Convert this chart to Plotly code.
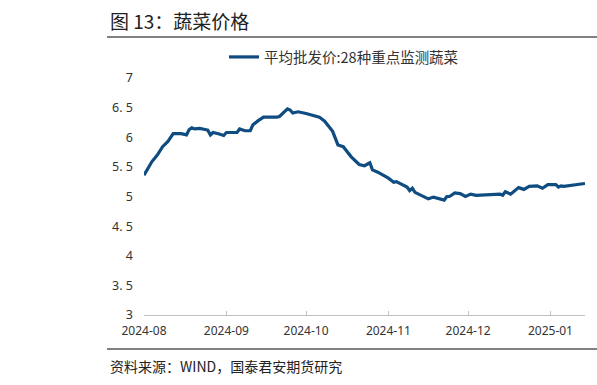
import plotly.graph_objects as go

dates = [
    "2024-08-01", "2024-08-04", "2024-08-06", "2024-08-08", "2024-08-10", "2024-08-12",
    "2024-08-15", "2024-08-17", "2024-08-18", "2024-08-19", "2024-08-20", "2024-08-22",
    "2024-08-24", "2024-08-25", "2024-08-26", "2024-08-27", "2024-08-29", "2024-08-31",
    "2024-09-01", "2024-09-05", "2024-09-06", "2024-09-08", "2024-09-10", "2024-09-11",
    "2024-09-13", "2024-09-15", "2024-09-20", "2024-09-21", "2024-09-24", "2024-09-25",
    "2024-09-26", "2024-09-28", "2024-10-01", "2024-10-06", "2024-10-08", "2024-10-11",
    "2024-10-13", "2024-10-15", "2024-10-18", "2024-10-19", "2024-10-21", "2024-10-23",
    "2024-10-25", "2024-10-26", "2024-10-28", "2024-11-01", "2024-11-03", "2024-11-04",
    "2024-11-08", "2024-11-09", "2024-11-10", "2024-11-11", "2024-11-13", "2024-11-16",
    "2024-11-18", "2024-11-22", "2024-11-23", "2024-11-24", "2024-11-26", "2024-11-28",
    "2024-11-30", "2024-12-02", "2024-12-04", "2024-12-09", "2024-12-13", "2024-12-14",
    "2024-12-15", "2024-12-17", "2024-12-20", "2024-12-22", "2024-12-24", "2024-12-27",
    "2024-12-29", "2024-12-31", "2025-01-03", "2025-01-04", "2025-01-05", "2025-01-06",
    "2025-01-09", "2025-01-12", "2025-01-14",
]
prices = [
    5.36, 5.59, 5.70, 5.84, 5.93, 6.06,
    6.06, 6.04, 6.13, 6.16, 6.14, 6.15,
    6.13, 6.12, 6.04, 6.08, 6.06, 6.03,
    6.08, 6.08, 6.14, 6.11, 6.11, 6.21,
    6.28, 6.34, 6.34, 6.35, 6.48, 6.46,
    6.41, 6.43, 6.40, 6.34, 6.27, 6.10,
    5.87, 5.84, 5.67, 5.63, 5.54, 5.52,
    5.57, 5.45, 5.41, 5.31, 5.24, 5.25,
    5.16, 5.10, 5.14, 5.07, 5.03, 4.96,
    4.99, 4.94, 5.00, 5.00, 5.06, 5.05,
    5.00, 5.04, 5.02, 5.03, 5.04, 5.02,
    5.08, 5.04, 5.15, 5.12, 5.17, 5.18,
    5.14, 5.20, 5.20, 5.16, 5.18, 5.17,
    5.19, 5.21, 5.22,
]
series_name = "平均批发价:28种重点监测蔬菜"
x_tick_vals = ["2024-08-01", "2024-09-01", "2024-10-01", "2024-11-01", "2024-12-01", "2025-01-01"]
x_tick_text = ["2024-08", "2024-09", "2024-10", "2024-11", "2024-12", "2025-01"]
y_tick_vals = [3, 3.5, 4, 4.5, 5, 5.5, 6, 6.5, 7]
y_tick_text = ["3", "3. 5", "4", "4. 5", "5", "5. 5", "6", "6. 5", "7"]
title_text = "图 13：蔬菜价格"
source_text = "资料来源：WIND，国泰君安期货研究"

FONT = "Noto Sans CJK SC"
TICK_FONT = "Noto Sans"
W, H = 597, 385
L, R, T, B = 144, 12, 78, 70
PW, PH = W - L - R, H - T - B


def px(x):
    return (x - L) / PW


def py(y):
    return (H - B - y) / PH


fig = go.Figure()
fig.add_trace(go.Scatter(
    x=dates, y=prices, mode="lines", name=series_name,
    line=dict(color="#0F4C81", width=3.2),
))

fig.update_layout(
    width=W, height=H,
    margin=dict(l=L, r=R, t=T, b=B, autoexpand=False),
    paper_bgcolor="white", plot_bgcolor="white",
    font=dict(family=FONT, size=12, color="#333333"),
    showlegend=True,
    legend=dict(orientation="h", x=px(224), xanchor="left", y=py(57), yanchor="middle",
                font=dict(size=14.5, color="#333333"), bgcolor="rgba(0,0,0,0)",
                itemwidth=30),
    xaxis=dict(
        type="date", range=["2024-08-01", "2025-01-14"],
        tickvals=x_tick_vals, ticktext=x_tick_text,
        showgrid=False, zeroline=False,
        showline=True, linecolor="#C0C0C0", linewidth=1,
        ticks="inside", ticklen=4, tickcolor="#C0C0C0",
        ticklabelstandoff=5,
        tickfont=dict(size=12, color="#333333", family=TICK_FONT),
    ),
    yaxis=dict(
        range=[3, 7], tickvals=y_tick_vals, ticktext=y_tick_text,
        showgrid=False, zeroline=False, showline=False,
        ticks="", ticklabelstandoff=10,
        tickfont=dict(size=12.5, color="#333333", family=TICK_FONT),
    ),
)

fig.add_annotation(text=title_text, xref="paper", yref="paper", x=px(108), y=py(20),
                   xanchor="left", yanchor="middle", showarrow=False,
                   font=dict(size=19, color="#222222", family=FONT))

fig.add_shape(type="line", xref="paper", yref="paper",
              x0=px(107), x1=px(600), y0=py(37), y1=py(37),
              line=dict(color="#808080", width=2))
fig.add_shape(type="line", xref="paper", yref="paper",
              x0=px(107), x1=px(600), y0=py(349), y1=py(349),
              line=dict(color="#808080", width=2))
fig.add_annotation(text=source_text, xref="paper", yref="paper",
                   x=px(108), y=py(366),
                   xanchor="left", yanchor="middle", showarrow=False,
                   font=dict(size=14, color="#222222", family=FONT))

fig.write_html("out.html", config={"displayModeBar": False},
               post_script="document.body.style.margin='0';")
